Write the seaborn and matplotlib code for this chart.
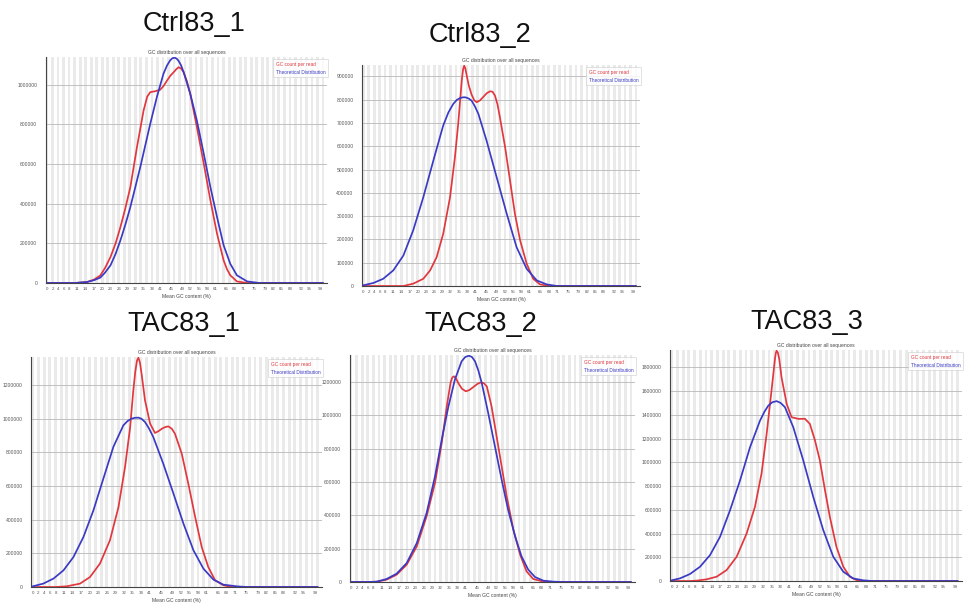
import matplotlib
matplotlib.use("Agg")
import matplotlib.pyplot as plt
import seaborn as sns

sns.set_theme(style="white")
plt.rcParams['font.family'] = ['Liberation Sans', 'DejaVu Sans']

# ---------------- data ----------------
titles = ["Ctrl83_1", "Ctrl83_2", "TAC83_1", "TAC83_2", "TAC83_3"]
subtitle = "GC distribution over all sequences"
legend_labels = ["GC count per read", "Theoretical Distribution"]
xlabel = "Mean GC content (%)"
xtick_labels = [0, 2, 4, 6, 8, 11, 14, 17, 20, 23, 26, 29, 32, 35, 38, 41, 45,
                49, 52, 55, 58, 61, 65, 68, 71, 75, 79, 82, 85, 88, 92, 95, 99]

# Ctrl83_1
c1_red_x = [0, 10, 14.5, 17, 19.3, 21, 23, 24.8, 26.6, 28.4, 30.2, 32.6, 35, 36.3, 37.4,
            39.3, 41, 42.3, 43.5, 44.7, 45.9, 46.8, 47.7, 48.6, 49.5, 50.7, 51.9, 54.3,
            56.8, 59.2, 61.6, 64, 65.2, 66.4, 68.8, 72.5, 100]
c1_red_y = [0, 0, 5000, 17000, 38000, 75000, 131000, 198000, 282000, 378000, 484000,
            686000, 871000, 940000, 963000, 968000, 975000, 995000, 1022000, 1046000,
            1064000, 1078000, 1089000, 1082000, 1064000, 1018000, 955000, 787000, 602000,
            417000, 249000, 114000, 70000, 39000, 8000, 0, 0]
c1_blue_x = [0, 10, 14.5, 17, 19.3, 21, 23, 24.8, 26.6, 28.4, 30.2, 33.8, 37.4, 39.8, 42.2,
             43.5, 44.6, 45.4, 46.2, 47.0, 47.7, 48.6, 49.5, 51.9, 54.3, 56.8, 59.2, 61.6,
             64, 66.4, 68.8, 72.5, 77, 100]
c1_blue_y = [0, 0, 5000, 14000, 27000, 52000, 89000, 145000, 215000, 295000, 383000,
             585000, 803000, 938000, 1056000, 1098000, 1123000, 1134000, 1137000, 1132000,
             1120000, 1098000, 1064000, 955000, 820000, 652000, 484000, 333000, 190000,
             97000, 39000, 8000, 0, 0]

# Ctrl83_2
c2_red_x = [0, 14.7, 18.3, 22, 24.5, 26.9, 29.3, 31.8, 33.6, 34.8, 36.1, 36.6, 37.0, 37.4,
            37.9, 38.7, 39.7, 40.7, 41.6, 42.8, 44, 45.3, 46.5, 47.4, 48.3, 49.2, 50.1, 52,
            53.8, 55.6, 57.5, 59.9, 62.3, 64.8, 68, 100]
c2_red_y = [0, 0, 10000, 31000, 67000, 124000, 224000, 381000, 553000, 696000, 882000,
            930000, 946000, 935000, 905000, 860000, 822000, 797000, 789000, 797000, 812000,
            828000, 836000, 834000, 817000, 780000, 724000, 596000, 453000, 310000, 196000,
            96000, 31000, 7000, 0, 0]
c2_blue_x = [0, 3.7, 7.3, 11, 14.7, 18.3, 22, 25.7, 29.3, 31.2, 33, 34.3, 35.5, 36.5, 37.5,
             38.6, 39.7, 40.9, 42.2, 45.2, 48.9, 52.6, 56.2, 59.9, 63.6, 67.2, 71, 100]
c2_blue_y = [3000, 13000, 31000, 67000, 131000, 239000, 381000, 539000, 689000, 745000,
             782000, 799000, 807000, 810000, 810000, 805000, 796000, 772000, 739000, 624000,
             467000, 310000, 167000, 74000, 24000, 7000, 0, 0]

# TAC83_1
t1_red_x = [0, 8, 11.9, 16.6, 20.1, 23.6, 27.1, 30.1, 32.4, 34.2, 35.3, 36.0, 36.6, 37.1,
            37.6, 38.2, 39.4, 41.2, 42.9, 44.1, 45.3, 46.5, 47.6, 48.8, 49.9, 52.3, 54.6,
            57, 59.3, 61.6, 64, 66.9, 70, 100]
t1_red_y = [0, 0, 4000, 20000, 59000, 139000, 277000, 475000, 713000, 950000, 1168000,
            1280000, 1345000, 1362000, 1335000, 1267000, 1109000, 970000, 915000, 925000,
            940000, 950000, 954000, 940000, 911000, 792000, 614000, 416000, 238000, 119000,
            40000, 10000, 0, 0]
t1_blue_x = [0, 3.7, 7.3, 10.8, 14.3, 17.8, 21.3, 24.8, 28.3, 31.8, 33.3, 34.7, 35.9, 37.1,
             38.2, 39.4, 40.8, 42.3, 45.8, 49.4, 52.9, 56.4, 59.9, 63.4, 66.9, 71.6, 75, 100]
t1_blue_y = [4000, 20000, 50000, 99000, 178000, 297000, 455000, 644000, 832000, 960000,
             986000, 1000000, 1005000, 1006000, 999000, 980000, 942000, 891000, 733000,
             554000, 376000, 218000, 109000, 44000, 14000, 4000, 0, 0]

# TAC83_2
t2_red_x = [0, 6, 9.2, 12.7, 16.3, 19.9, 23.5, 27, 30, 32.4, 34.2, 35.6, 36.2, 36.8, 37.5,
            38.3, 39.6, 41, 42.3, 43.7, 45.1, 46.4, 47.5, 48.5, 50.2, 52, 53.8, 55.6, 58,
            60.4, 62.7, 65.1, 68.7, 72, 100]
t2_red_y = [0, 0, 2000, 14000, 44000, 104000, 214000, 394000, 594000, 834000, 1054000,
            1200000, 1228000, 1234000, 1222000, 1194000, 1160000, 1144000, 1152000, 1170000,
            1188000, 1198000, 1192000, 1174000, 1054000, 874000, 694000, 514000, 314000,
            164000, 64000, 18000, 2000, 0, 0]
t2_blue_x = [0, 6, 9.2, 12.7, 16.3, 19.9, 23.5, 27, 30, 32.4, 34.8, 37.1, 39.5, 40.8, 42.1,
             43.2, 44.3, 45.5, 46.7, 49, 51.4, 53.8, 56.1, 58.6, 60.9, 63.3, 65.7, 68.7,
             72.3, 76, 100]
t2_blue_y = [0, 0, 2000, 18000, 50000, 114000, 234000, 414000, 634000, 854000, 1054000,
             1214000, 1324000, 1350000, 1358000, 1350000, 1324000, 1268000, 1194000,
             1014000, 814000, 614000, 434000, 274000, 154000, 74000, 30000, 8000, 2000, 0, 0]

# TAC83_3
t3_red_x = [0, 6.4, 8.7, 12.2, 15.7, 19.2, 22.7, 26.2, 29.1, 31.4, 33.2, 34.9, 36.1, 36.4,
            36.7, 37.1, 37.6, 38.4, 40.2, 41.9, 44.2, 46.6, 48.3, 50.1, 51.8, 53.6, 55.3,
            57.6, 60, 62.3, 64.6, 67, 100]
t3_red_y = [0, 0, 3000, 14000, 36000, 92000, 204000, 400000, 624000, 904000, 1240000,
            1604000, 1870000, 1920000, 1940000, 1925000, 1870000, 1716000, 1492000, 1380000,
            1366000, 1366000, 1324000, 1184000, 1016000, 764000, 540000, 288000, 120000,
            36000, 8000, 0, 0]
t3_blue_x = [0, 2.9, 6.4, 9.9, 13.4, 16.9, 20.4, 23.9, 27.4, 30.9, 32.4, 33.8, 35.2, 36.7,
             38.1, 39.6, 42.5, 46, 49.5, 53, 56.5, 60, 63.4, 66.9, 70, 100]
t3_blue_y = [6000, 22000, 59000, 120000, 218000, 372000, 596000, 848000, 1128000, 1352000,
             1425000, 1478000, 1506000, 1515000, 1500000, 1464000, 1296000, 1016000, 708000,
             428000, 204000, 78000, 22000, 6000, 0, 0]

yticks = [
    [0, 200000, 400000, 600000, 800000, 1000000],
    [0, 100000, 200000, 300000, 400000, 500000, 600000, 700000, 800000, 900000],
    [0, 200000, 400000, 600000, 800000, 1000000, 1200000],
    [0, 200000, 400000, 600000, 800000, 1000000, 1200000],
    [0, 200000, 400000, 600000, 800000, 1000000, 1200000, 1400000, 1600000, 1800000],
]
series = [
    (c1_red_x, c1_red_y, c1_blue_x, c1_blue_y),
    (c2_red_x, c2_red_y, c2_blue_x, c2_blue_y),
    (t1_red_x, t1_red_y, t1_blue_x, t1_blue_y),
    (t2_red_x, t2_red_y, t2_blue_x, t2_blue_y),
    (t3_red_x, t3_red_y, t3_blue_x, t3_blue_y),
]

# ---------------- layout (pixels in a 964x608 canvas) ----------------
W, H = 964, 608
# (x pixel of GC=0, pixels per GC unit, top pixel, bottom pixel)
geom = [
    (47.0, 2.76, 57, 283),
    (363.3, 2.727, 65, 286),
    (32.7, 2.85, 357, 587),
    (351.0, 2.80, 355, 582),
    (671.7, 2.86, 350, 581),
]
title_pos = [(194, 24), (480, 35), (184, 324), (481, 324), (807, 322)]
XMIN, XMAX = -0.5, 101.5

RED = "#e0383e"
BLUE = "#3a3ac4"

fig = plt.figure(figsize=(W / 100, H / 100), dpi=100)
fig.patch.set_facecolor("white")

for i, (x0, unit, top, bot) in enumerate(geom):
    left = x0 + XMIN * unit
    right = x0 + XMAX * unit
    ax = fig.add_axes([left / W, 1 - bot / H, (right - left) / W, (bot - top) / H])
    ax.set_facecolor("white")
    # alternating FastQC-like background bands
    for b in range(0, 101, 2):
        ax.axvspan(b - 0.5, b + 0.5, color="#eaeaea", lw=0, zorder=0)
    rx, ry, bx, by = series[i]
    ymax = max(max(ry), max(by))
    for yt in yticks[i][1:]:
        ax.axhline(yt, color="#b8b8b8", lw=0.6, zorder=1)
    sns.lineplot(x=rx, y=ry, ax=ax, color=RED, lw=1.25, estimator=None, sort=False,
                 label=legend_labels[0], zorder=3)
    sns.lineplot(x=bx, y=by, ax=ax, color=BLUE, lw=1.25, estimator=None, sort=False,
                 label=legend_labels[1], zorder=3)
    for ln in ax.get_lines():
        ln.set_solid_joinstyle("round")
    ax.set_xlim(XMIN, XMAX)
    ax.set_ylim(0, ymax * 1.003)
    ax.set_xticks(xtick_labels)
    ax.set_xticklabels([str(v) for v in xtick_labels], fontsize=3.2, color="#555555")
    ax.set_yticks(yticks[i])
    ax.set_yticklabels([str(v) for v in yticks[i]], fontsize=3.6, color="#555555")
    ax.tick_params(axis="both", length=0, pad=3)
    ax.tick_params(axis="y", pad=6)
    ax.grid(False)
    for s in ["top", "right"]:
        ax.spines[s].set_visible(False)
    for s in ["left", "bottom"]:
        ax.spines[s].set_color("#444444")
        ax.spines[s].set_linewidth(0.8)
    ax.set_xlabel(xlabel, fontsize=3.6, color="#444444", labelpad=2)
    ax.set_ylabel("")
    ax.set_title(subtitle, fontsize=3.6, color="#444444", pad=2)
    leg = ax.legend(loc="upper right", fontsize=3.4, frameon=True, handlelength=0,
                    handletextpad=0, borderpad=0.5, labelspacing=0.6,
                    bbox_to_anchor=(1.01, 1.0))
    leg.get_frame().set_facecolor("white")
    leg.get_frame().set_edgecolor("#cccccc")
    leg.get_frame().set_linewidth(0.5)
    leg.get_frame().set_boxstyle("square", pad=0.0)
    for txt, col in zip(leg.get_texts(), [RED, BLUE]):
        txt.set_color(col)
    for h in leg.legend_handles:
        h.set_visible(False)

for t, (tx, ty) in zip(titles, title_pos):
    fig.text(tx / W, 1 - ty / H, t, ha="center", va="center", fontsize=19.5,
             color="#111111", family=["Liberation Sans", "DejaVu Sans"])

fig.savefig("out.png", dpi=100, facecolor="white")
